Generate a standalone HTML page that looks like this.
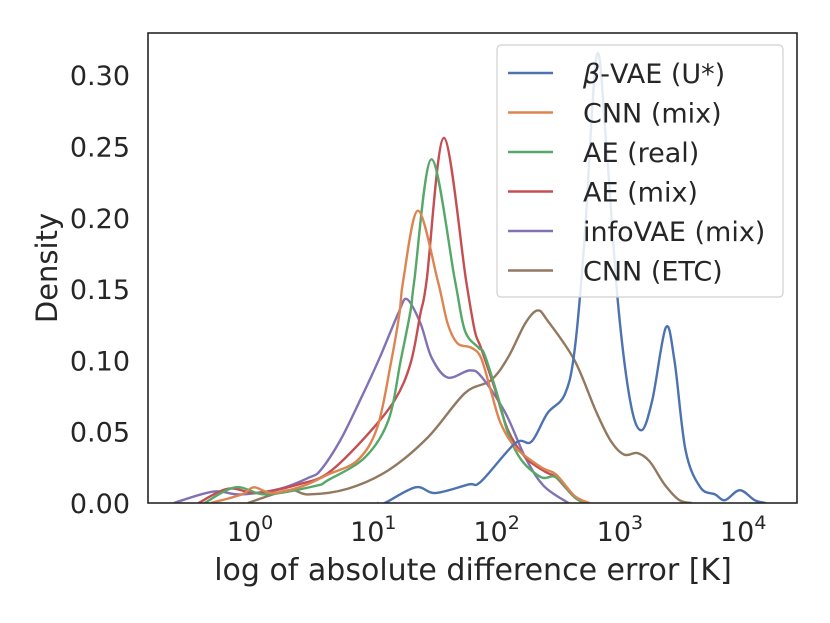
<!DOCTYPE html>
<html><head><meta charset="utf-8"><style>
body{margin:0;background:#fff}
svg{font-family:"DejaVu Sans","Liberation Sans",sans-serif;display:block}
</style></head><body>
<svg id="chart" width="830" height="623" viewBox="0 0 830 623" xmlns="http://www.w3.org/2000/svg"></svg>
<script>
const xTickExps=[0,1,2,3,4];
const yTicks=[0,0.05,0.10,0.15,0.20,0.25,0.30];
const seriesNames=["β-VAE (U*)","CNN (mix)","AE (real)","AE (mix)","infoVAE (mix)","CNN (ETC)"];
const seriesColors=["#4c72b0","#dd8452","#55a868","#c44e52","#8172b3","#937860"];
// log10 x values and densities per series
const blueX=[1.0,1.06,1.31,1.47,1.74,1.84,2.12,2.25,2.38,2.52,2.6,2.68,2.78,2.86,2.95,3.05,3.14,3.23,3.34,3.41,3.5,3.62,3.74,3.82,3.94,4.06,4.15];
const blueY=[0,0,0.011,0.007,0.013,0.015,0.042,0.043,0.063,0.076,0.107,0.184,0.314,0.248,0.142,0.072,0.051,0.072,0.123,0.10,0.037,0.011,0.006,0.002,0.009,0.002,0];
const orangeX=[-0.35,-0.1,0.0,0.15,0.4,0.6,0.84,1.0,1.11,1.18,1.21,1.33,1.49,1.57,1.65,1.76,1.84,1.92,2.0,2.12,2.33,2.45,2.6,2.72];
const orangeY=[0,0.006,0.011,0.007,0.012,0.020,0.030,0.053,0.098,0.133,0.156,0.205,0.156,0.126,0.112,0.109,0.102,0.079,0.056,0.039,0.025,0.02,0.005,0];
const greenX=[-0.4,-0.15,0.1,0.5,0.6,0.9,1.09,1.19,1.27,1.30,1.44,1.63,1.71,1.82,1.87,1.98,2.06,2.17,2.33,2.45,2.6,2.68];
const greenY=[0,0.011,0.006,0.012,0.016,0.032,0.058,0.100,0.135,0.156,0.241,0.156,0.121,0.109,0.104,0.074,0.049,0.030,0.018,0.018,0.004,0];
const redX=[-0.45,-0.21,0.03,0.36,0.6,0.9,1.14,1.27,1.35,1.40,1.54,1.72,1.79,1.84,1.95,2.06,2.2,2.36,2.45,2.6,2.7];
const redY=[0,0.010,0.007,0.013,0.021,0.046,0.072,0.098,0.133,0.156,0.256,0.156,0.121,0.109,0.081,0.051,0.032,0.022,0.018,0.004,0];
const purpleX=[-0.65,-0.33,-0.11,0.21,0.45,0.54,0.70,0.86,1.02,1.17,1.24,1.35,1.44,1.57,1.75,1.85,2.04,2.2,2.35,2.55];
const purpleY=[0,0.008,0.006,0.010,0.018,0.023,0.044,0.072,0.102,0.133,0.143,0.126,0.102,0.088,0.093,0.088,0.063,0.032,0.012,0];
const brownX=[-0.05,0.28,0.44,0.76,1.09,1.41,1.71,1.92,2.06,2.20,2.30,2.38,2.6,2.77,2.89,3.0,3.11,3.21,3.33,3.45,3.55];
const brownY=[0,0.009,0.006,0.010,0.023,0.046,0.077,0.086,0.102,0.126,0.135,0.128,0.10,0.065,0.044,0.034,0.035,0.029,0.013,0.002,0];
const seriesX=[blueX,orangeX,greenX,redX,purpleX,brownX];
const seriesY=[blueY,orangeY,greenY,redY,purpleY,brownY];

const L=148,R=797,T=33,B=503;
const xs=u=>254+u*123.3;
const ys=v=>B-v*1426;
const NS="http://www.w3.org/2000/svg";
const svg=document.getElementById('chart');
function mk(tag,attrs,parent){const e=document.createElementNS(NS,tag);for(const k in attrs)e.setAttribute(k,attrs[k]);(parent||svg).appendChild(e);return e;}

const clip=mk('clipPath',{id:'pc'});mk('rect',{x:L,y:T,width:R-L,height:B-T},clip);
const g=mk('g',{'clip-path':'url(#pc)'});


function pathFor(X,Y){
  const p=X.map((x,i)=>[xs(x),ys(Y[i])]);
  let d=`M${p[0][0]},${p[0][1]}`;
  for(let i=0;i<p.length-1;i++){
    const p0=p[Math.max(0,i-1)],p1=p[i],p2=p[i+1],p3=p[Math.min(p.length-1,i+2)];
    const c1=[p1[0]+(p2[0]-p0[0])/6,p1[1]+(p2[1]-p0[1])/6];
    const c2=[p2[0]-(p3[0]-p1[0])/6,p2[1]-(p3[1]-p1[1])/6];
    d+=` C${c1[0]},${c1[1]} ${c2[0]},${c2[1]} ${p2[0]},${p2[1]}`;
  }
  return d;
}
const order=[5,4,3,2,1,0];
order.forEach(i=>{
  const pth=mk('path',{d:pathFor(seriesX[i],seriesY[i]),fill:'none',stroke:seriesColors[i],'stroke-width':2.4,'stroke-linejoin':'round'},g);
  
  
});
const frame=mk('rect',{x:L,y:T,width:R-L,height:B-T,fill:'none',stroke:'#262626','stroke-width':1.6});



yTicks.forEach(v=>{
  const t=mk('text',{x:130,y:ys(v)+10,'text-anchor':'end','font-size':27,fill:'#262626'});
  t.textContent=v.toFixed(2);
  
  
});
xTickExps.forEach(e=>{
  const t=mk('text',{x:xs(e)-4,y:541,'text-anchor':'middle','font-size':27,fill:'#262626'});
  
  
  t.textContent='10';
  const s=mk('tspan',{dy:-12,'font-size':19},t);s.textContent=String(e);
});
const xt=mk('text',{x:473,y:580,'text-anchor':'middle','font-size':30,fill:'#262626'});
xt.textContent='log of absolute difference error [K]';


const yt=mk('text',{x:57,y:268,'text-anchor':'middle','font-size':29,fill:'#262626',transform:'rotate(-90 57 268)'});
yt.textContent='Density';



const lg=mk('g',{});


mk('rect',{x:497,y:45,width:286,height:252,rx:4,fill:'#fff','fill-opacity':0.85,stroke:'#d0d0d0','stroke-width':1.2},lg);
seriesNames.forEach((n,i)=>{
  const y=73+i*39.5;
  const ln=mk('line',{x1:508,x2:553,y1:y,y2:y,stroke:seriesColors[i],'stroke-width':2.4},lg);
  
  
  const t=mk('text',{x:583,y:y+10,'font-size':27,fill:'#262626'},lg);
  
  
  if(i===0){const s=mk('tspan',{'font-style':'italic'},t);s.textContent='β';const r=mk('tspan',{},t);r.textContent='-VAE (U*)';}
  else t.textContent=n;
});
</script>
</body></html>
